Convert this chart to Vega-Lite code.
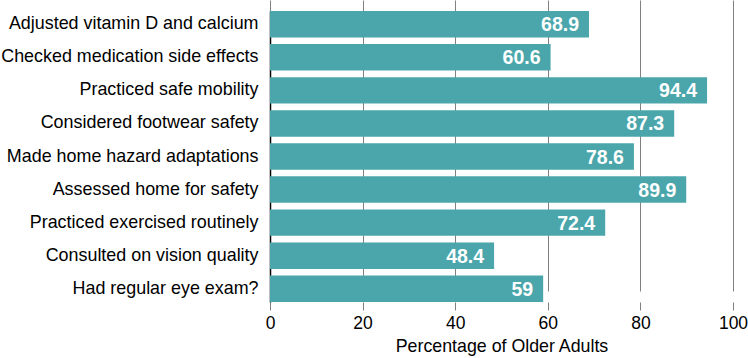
{
  "$schema": "https://vega.github.io/schema/vega-lite/v6.json",
  "autosize": {"type": "none"},
  "width": 463,
  "height": 302,
  "padding": {"left": 270, "top": 0, "right": 15, "bottom": 56},
  "background": "white",
  "config": {"view": {"stroke": null}, "font": "Liberation Sans"},
  "data": {"values": [
    {"item": "Adjusted vitamin D and calcium", "pct": 68.9, "label": "68.9"},
    {"item": "Checked medication side effects", "pct": 60.6, "label": "60.6"},
    {"item": "Practiced safe mobility", "pct": 94.4, "label": "94.4"},
    {"item": "Considered footwear safety", "pct": 87.3, "label": "87.3"},
    {"item": "Made home hazard adaptations", "pct": 78.6, "label": "78.6"},
    {"item": "Assessed home for safety", "pct": 89.9, "label": "89.9"},
    {"item": "Practiced exercised routinely", "pct": 72.4, "label": "72.4"},
    {"item": "Consulted on vision quality", "pct": 48.4, "label": "48.4"},
    {"item": "Had regular eye exam?", "pct": 59, "label": "59"}
  ]},
  "encoding": {
    "y": {
      "field": "item", "type": "nominal", "sort": null,
      "scale": {"range": [11, 302], "paddingInner": 0.2, "paddingOuter": 0},
      "axis": {
        "title": null, "ticks": false, "domain": true, "domainColor": "black", "domainWidth": 1.5,
        "labelFontSize": 17.9, "labelColor": "black", "labelPadding": 12, "labelLimit": 300, "grid": false
      }
    },
    "x": {
      "field": "pct", "type": "quantitative",
      "scale": {"domain": [0, 100], "nice": false},
      "axis": {
        "values": [0, 20, 40, 60, 80, 100], "title": "Percentage of Older Adults",
        "grid": true, "gridColor": "#808080", "gridWidth": 1, "gridOpacity": 1,
        "domain": false, "ticks": true, "tickColor": "#808080", "tickSize": 8,
        "labelFontSize": 17.5, "labelColor": "black", "labelPadding": 4, "labelFlush": false,
        "titleFontSize": 17.8, "titleFontWeight": "normal", "titleColor": "black",
        "titleBaseline": "alphabetic", "titleY": 49
      }
    }
  },
  "layer": [
    {"mark": {"type": "bar", "color": "#4AA6AB"}},
    {"mark": {"type": "text", "align": "right", "baseline": "middle", "dx": -10, "dy": 1, "color": "white", "fontWeight": "bold", "fontSize": 19.5},
     "encoding": {"text": {"field": "label"}}}
  ]
}
